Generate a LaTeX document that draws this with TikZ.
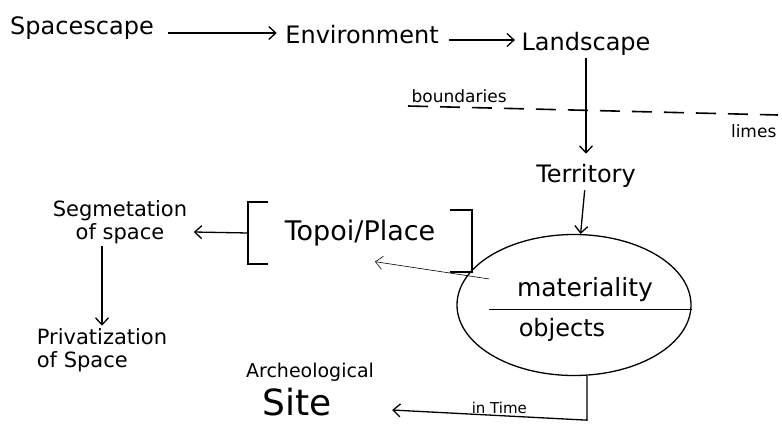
\documentclass[tikz,border=0pt]{standalone}
\usepackage{fontspec}
\setmainfont{DejaVu Sans}
\usetikzlibrary{arrows.meta,positioning,shapes.geometric}

\begin{document}
\begin{tikzpicture}[x=1pt,y=-1pt,line width=1.3pt,
    >={Straight Barb[length=7pt,width=13pt]},
    word/.style={inner sep=2pt,font=\fontsize{24}{26}\selectfont},
    mid/.style={inner sep=2pt,align=left,font=\fontsize{21}{23}\selectfont},
    note/.style={inner sep=1pt,font=\fontsize{17}{19}\selectfont},
    bracket/.style={line width=2pt}]
        \useasboundingbox (0,0) rectangle (782,424);
        % top row
        \node[word] (spacescape)  at (82,28)  {Spacescape};
        \node[word] (environment) at (362,35) {Environment};
        \node[word] (landscape)   at (586,44) {Landscape};
        \path[->] ([xshift=12pt,yshift=-5pt]spacescape.east) edge ([xshift=-6pt,yshift=2pt]environment.west);
        \path[->] ([xshift=8pt,yshift=-5pt]environment.east) edge ([xshift=-4pt,yshift=4pt]landscape.west);
        % boundaries / limes
        \coordinate (bnd_l) at (408,106);
        \coordinate (bnd_r) at (778,115);
        \draw[line width=1.6pt,dash pattern=on 20pt off 12pt] (bnd_l) -- (bnd_r);
        \node[note, above right=2pt and 2pt of bnd_l] (boundaries) {boundaries};
        \node[note, below left=8pt and 0pt of bnd_r] (limes) {limes};
        % territory and materiality
        \node[mid, font=\fontsize{24}{26}\selectfont] (territory) at (586,176) {Territory};
        \path[->] (landscape) edge [shorten >=8pt] (territory);
        \node[ellipse, draw, minimum width=234pt, minimum height=141pt] (ell) at (574,305) {};
        \path[->] (territory) edge (ell);
        \node[word, font=\fontsize{25}{27}\selectfont] (materiality) at (585,290) {materiality};
        \node[word] (objects) at (562,330) {objects};
        \draw ([xshift=-25pt,yshift=-5pt]materiality.south west) -- ([yshift=-5pt]ell.east |- materiality.south);
        % topoi / place
        \node[minimum width=222pt, minimum height=60pt, font=\fontsize{27}{29}\selectfont] (topoi) at (360,233) {Topoi/Place};
        \draw[bracket] ([xshift=20pt]topoi.north west) -- (topoi.north west) -- (topoi.south west) -- ([xshift=20pt]topoi.south west);
        \draw[bracket] ([xshift=-22pt,yshift=-8pt]topoi.north east) -- ([yshift=-8pt]topoi.north east) -- ([yshift=-8pt]topoi.south east) -- ([xshift=-22pt,yshift=-8pt]topoi.south east);
        \draw[->, line width=0.6pt] ([xshift=-25pt,yshift=11pt]materiality.west) -- ([xshift=15pt,yshift=2pt]topoi.south);
        % left column
        \node[mid, align=center] (seg) at (120,222) {Segmetation\\of space};
        \node[mid] (priv) at (102,350) {Privatization\\of Space};
        \path[->] (topoi.west) edge ([xshift=4pt,yshift=-10pt]seg.east);
        \path[->] ([xshift=-18pt]seg.south) edge ([xshift=0pt]priv.north);
        % archeological site
        \node[mid, font=\fontsize{19}{21}\selectfont] (arch) at (310,372) {Archeological};
        \node[inner sep=1pt, font=\fontsize{36}{38}\selectfont] (site) at (297,402) {Site};
        \draw[->] ([xshift=13pt]ell.south) -- ++(0,44) -- node[note, above, pos=0.45, font=\fontsize{15}{17}\selectfont] (intime) {in Time} ([xshift=59pt,yshift=-8pt]site.east);
\end{tikzpicture}
\end{document}
